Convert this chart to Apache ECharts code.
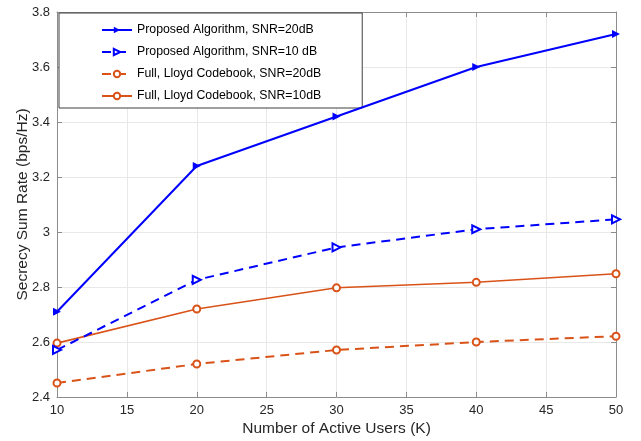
<!DOCTYPE html>
<html><head><meta charset="utf-8">
<script src="https://cdn.jsdelivr.net/npm/echarts@6/dist/echarts.min.js"></script>
<style>html,body{margin:0;padding:0;background:#fff}#c{width:641px;height:441px}</style>
</head><body><div id="c"></div>
<script>
const users = [10, 20, 30, 40, 50];
const propSnr20 = [2.71, 3.24, 3.42, 3.60, 3.72];
const propSnr10 = [2.571, 2.826, 2.944, 3.01, 3.046];
const lloydSnr20 = [2.451, 2.52, 2.571, 2.60, 2.621];
const lloydSnr10 = [2.596, 2.72, 2.797, 2.817, 2.848];
const names = ['Proposed Algorithm, SNR=20dB','Proposed Algorithm, SNR=10 dB','Full, Lloyd Codebook, SNR=20dB','Full, Lloyd Codebook, SNR=10dB'];
const xTicks = [10,15,20,25,30,35,40,45,50];
const yTicks = [2.4,2.6,2.8,3.0,3.2,3.4,3.6,3.8];

const BLUE = '#0000ff', ORANGE = '#d95319';
const pair = a => users.map((u,i)=>[u,a[i]]);
const chart = echarts.init(document.getElementById('c'), null, {renderer:'canvas'});
const font = 'Liberation Sans, Arial, Helvetica, sans-serif';
const axisCommon = {
  axisLine:{show:true, lineStyle:{color:'#8c8c8c', width:1}},
  axisTick:{show:true, inside:true, length:5, lineStyle:{color:'#8c8c8c'}},
};
chart.setOption({
  animation:false,
  backgroundColor:'#fff',
  textStyle:{fontFamily:font},
  grid:{left:57, right:25, top:12, bottom:44, containLabel:false, outerBoundsMode:'none'},
  legend:{
    orient:'vertical', left:59, top:13,
    padding:[11,41,6,42], itemGap:10, itemWidth:30, itemHeight:8,
    backgroundColor:'#fff', borderColor:'#404040', borderWidth:1,
    textStyle:{fontSize:12.3, color:'#000', fontFamily:font},
    data:names
  },
  xAxis:[{
    type:'value', min:10, max:50, interval:5, position:'bottom',
    ...axisCommon,
    axisLabel:{color:'#262626', fontSize:13, margin:7, fontFamily:font},
    splitLine:{show:true, lineStyle:{color:'#e8e8e8'}},
    name:'Number of Active Users (K)', nameLocation:'middle', nameGap:24, nameMoveOverlap:false,
    nameTextStyle:{fontSize:15.5, color:'#262626', fontFamily:font}
  },{
    type:'value', min:10, max:50, interval:5, position:'top',
    ...axisCommon, axisLabel:{show:false}, splitLine:{show:false}
  }],
  yAxis:[{
    type:'value', min:2.4, max:3.8, interval:0.2, position:'left',
    ...axisCommon,
    axisLabel:{color:'#262626', fontSize:13, margin:7, fontFamily:font},
    splitLine:{show:true, lineStyle:{color:'#e8e8e8'}},
    name:'Secrecy Sum Rate (bps/Hz)', nameLocation:'middle', nameGap:26, nameMoveOverlap:false,
    nameTextStyle:{fontSize:15.5, color:'#262626', fontFamily:font}
  },{
    type:'value', min:2.4, max:3.8, interval:0.2, position:'right',
    ...axisCommon, axisLabel:{show:false}, splitLine:{show:false}
  }],
  series:[
    {name:names[0], type:'line', data:pair(propSnr20), color:BLUE,
     symbol:'triangle', symbolRotate:-90, symbolSize:8,
     lineStyle:{width:2, color:BLUE}, itemStyle:{color:BLUE}, z:5},
    {name:names[1], type:'line', data:pair(propSnr10), color:BLUE,
     symbol:'emptyTriangle', symbolRotate:-90, symbolSize:8,
     lineStyle:{width:2, type:[9,6], color:BLUE}, itemStyle:{color:BLUE, borderWidth:1.5}, z:4},
    {name:names[2], type:'line', data:pair(lloydSnr20), color:ORANGE,
     symbol:'emptyCircle', symbolSize:7,
     lineStyle:{width:2, type:[9,6], color:ORANGE}, itemStyle:{color:ORANGE, borderWidth:1.5}, z:3},
    {name:names[3], type:'line', data:pair(lloydSnr10), color:ORANGE,
     symbol:'emptyCircle', symbolSize:7,
     lineStyle:{width:1.6, color:ORANGE}, itemStyle:{color:ORANGE, borderWidth:1.5}, z:3}
  ]
});
</script></body></html>
